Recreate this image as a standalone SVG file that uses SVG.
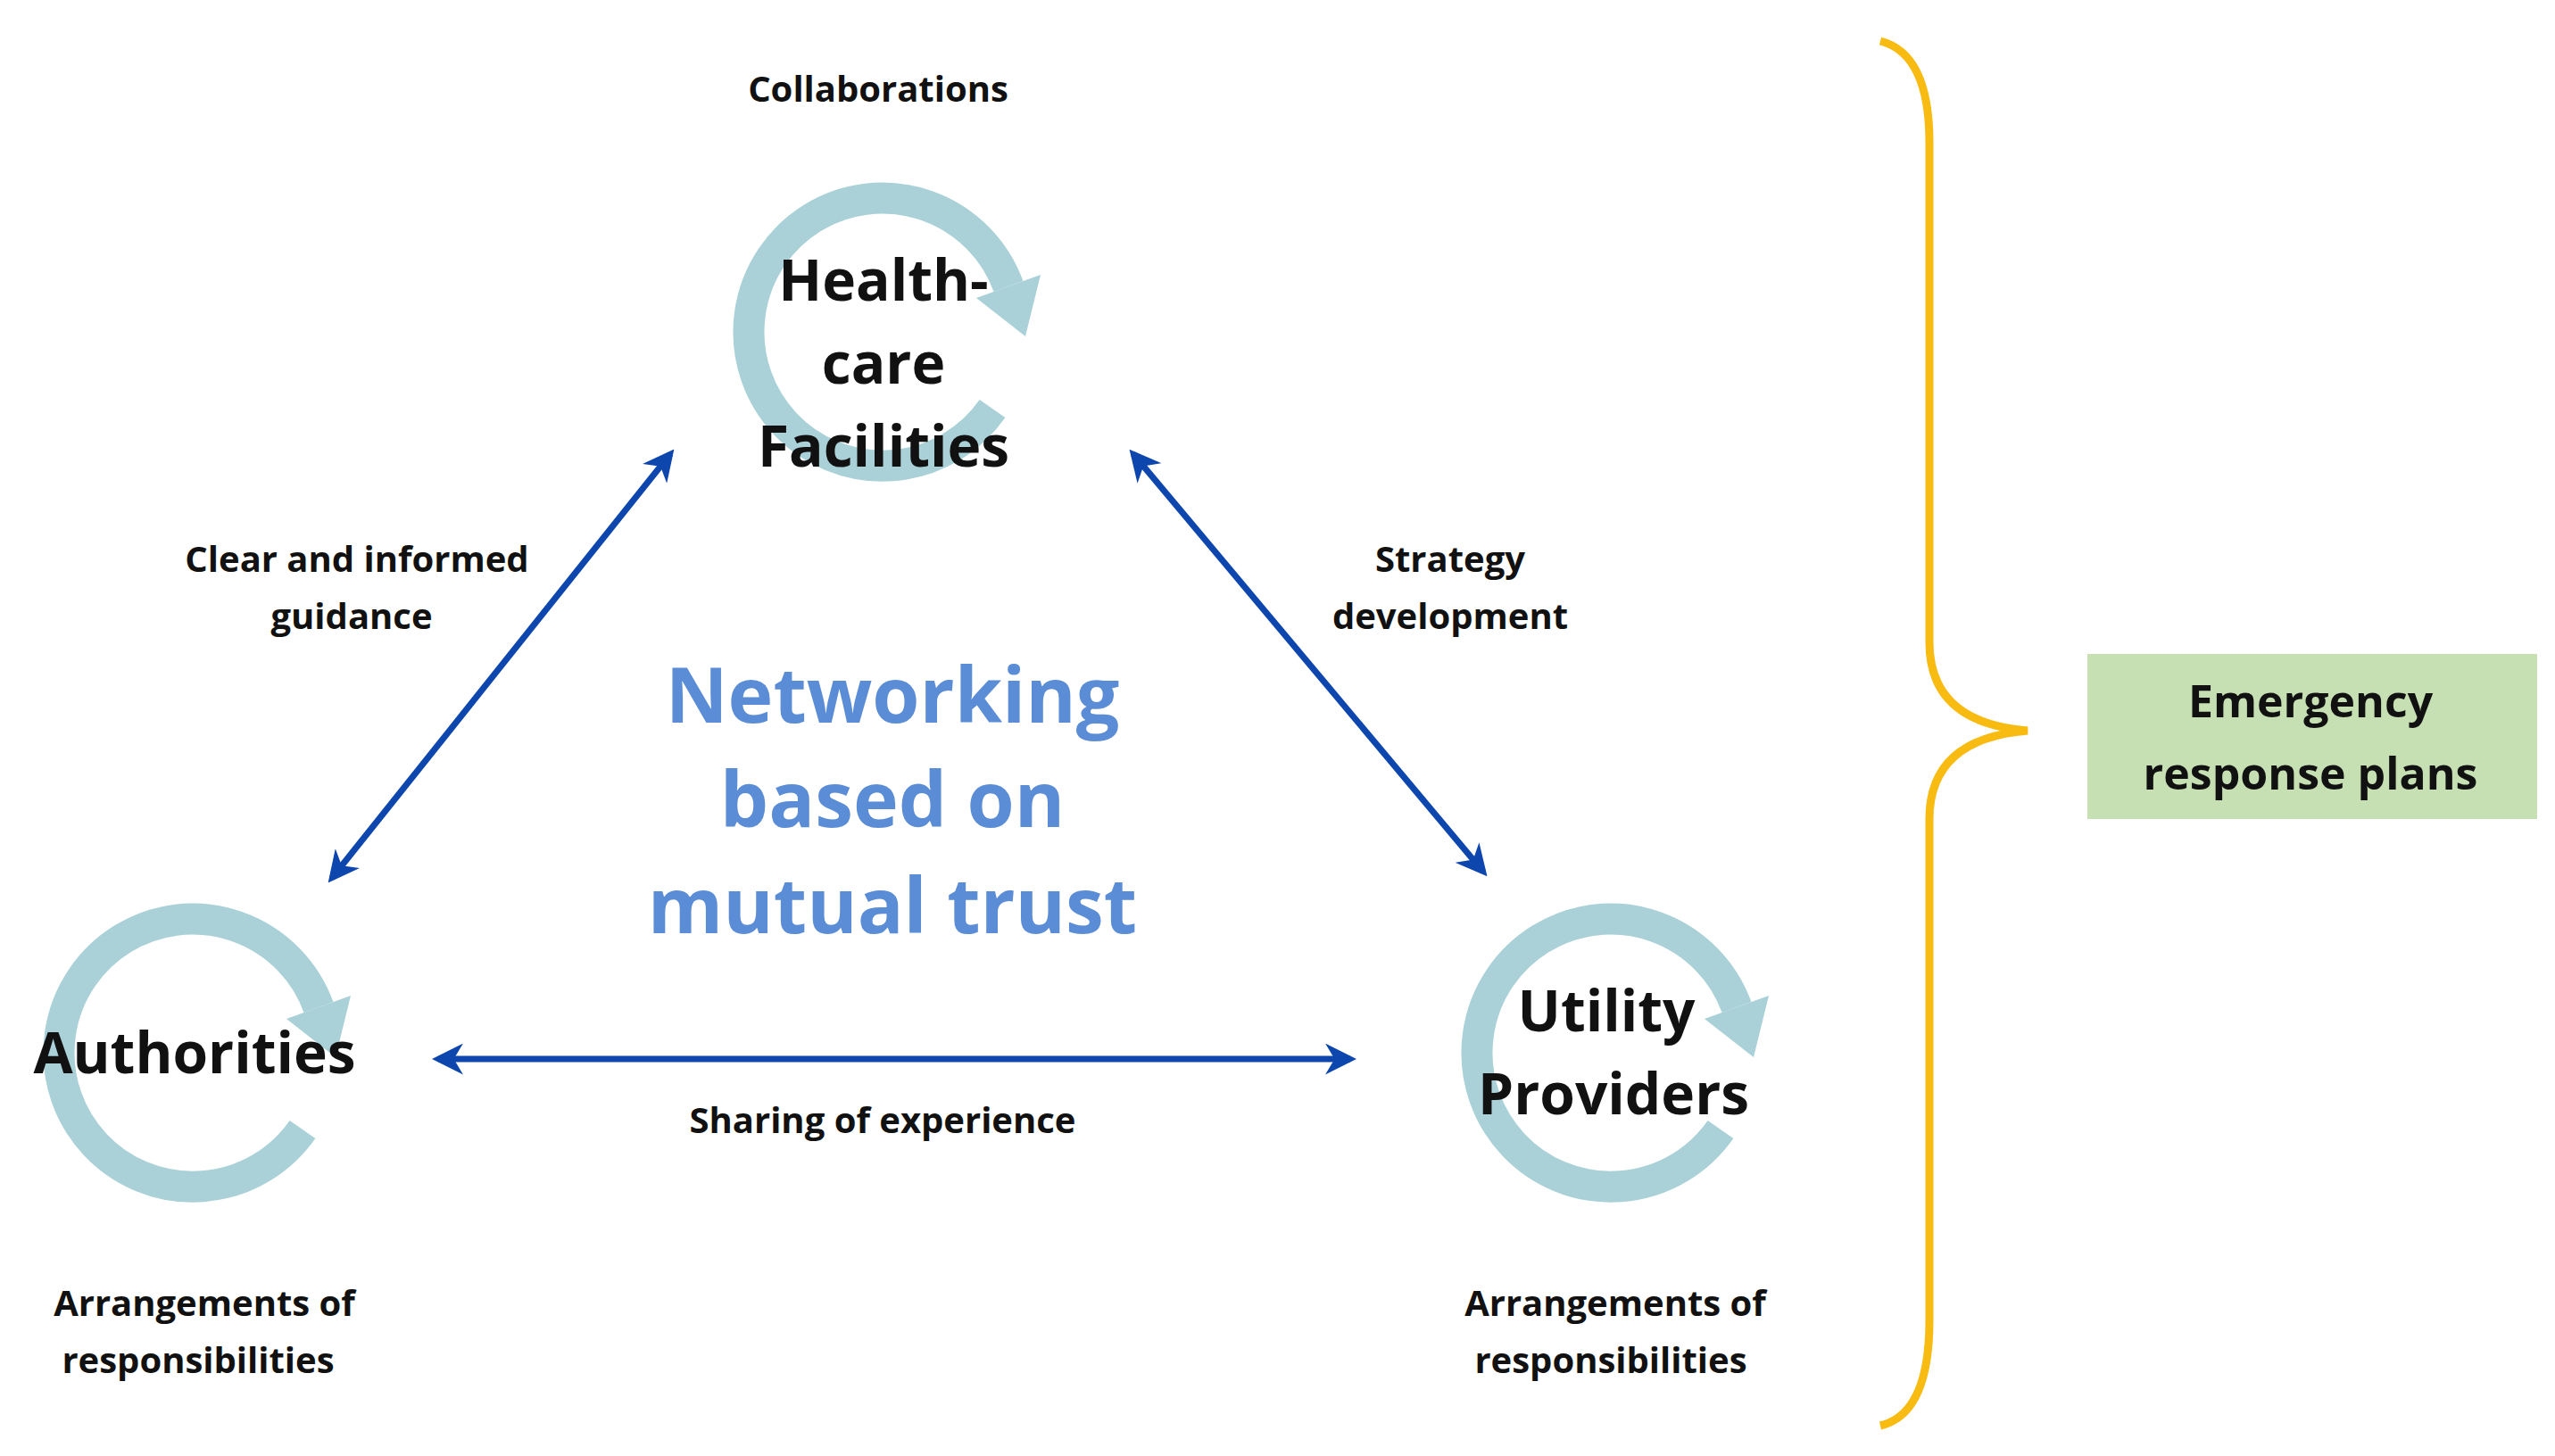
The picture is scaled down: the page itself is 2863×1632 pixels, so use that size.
<svg xmlns="http://www.w3.org/2000/svg" width="2863" height="1632" viewBox="0 0 2863 1632">
<style>
text{font-family:"Open Sans","Noto Sans",sans-serif;font-weight:bold;text-anchor:middle;fill:#111}
.node{font-size:64px}
.lbl{font-size:40px}
.mid{font-size:86px;fill:#5B8DD6}
.conn{stroke:#0D47AE;stroke-width:7;fill:none;marker-start:url(#ah);marker-end:url(#ah)}
</style>
<defs>
<marker id="ah" viewBox="0 0 10 10" refX="8" refY="5" markerWidth="5" markerHeight="5" orient="auto-start-reverse" markerUnits="strokeWidth">
<path d="M0,0 L10,5 L0,10 L3,5 Z" fill="#0D47AE"/>
</marker>
<g id="cyc">
<path d="M123,86 A150,150 0 1 1 141,-51" fill="none" stroke="#A9D1D7" stroke-width="35"/>
<polygon points="177,-64 105,-38 160,5" fill="#A9D1D7"/>
</g>
</defs>
<rect width="2863" height="1632" fill="#fff"/>
<g id="connectors">
<line class="conn" x1="751" y1="509" x2="372" y2="984"/>
<line class="conn" x1="1270" y1="509" x2="1662" y2="977"/>
<line class="conn" x1="491" y1="1187" x2="1513" y2="1187"/>
<path d="M2107,46 Q2162,60 2162,160 L2162,720 Q2162,810 2272,819 Q2162,828 2162,918 L2162,1480 Q2162,1585 2107,1598" fill="none" stroke="#F7BB12" stroke-width="9"/>
</g>
<g id="health">
<use href="#cyc" transform="translate(989,372)"/>
<text class="node" x="990" y="337">Health-</text>
<text class="node" x="990" y="430">care</text>
<text class="node" x="990" y="523">Facilities</text>
</g>
<g id="authorities">
<use href="#cyc" transform="translate(216,1180)"/>
<text class="node" x="218" y="1203">Authorities</text>
</g>
<g id="utility">
<use href="#cyc" transform="translate(1805,1180)"/>
<text class="node" x="1800" y="1156">Utility</text>
<text class="node" x="1808" y="1249">Providers</text>
</g>
<g id="center">
<text class="mid" x="1000" y="810">Networking</text>
<text class="mid" x="1000" y="927">based on</text>
<text class="mid" x="1000" y="1046">mutual trust</text>
</g>
<g id="labels">
<text class="lbl" x="984" y="114">Collaborations</text>
<text class="lbl" x="400" y="641">Clear and informed</text>
<text class="lbl" x="394" y="705">guidance</text>
<text class="lbl" x="1625" y="641">Strategy</text>
<text class="lbl" x="1625" y="705">development</text>
<text class="lbl" x="989" y="1270">Sharing of experience</text>
<text class="lbl" x="229" y="1475">Arrangements of</text>
<text class="lbl" x="222" y="1539">responsibilities</text>
<text class="lbl" x="1810" y="1475">Arrangements of</text>
<text class="lbl" x="1805" y="1539">responsibilities</text>
</g>
<g id="plans">
<rect x="2339" y="733" width="504" height="185" fill="#C6DFB3"/>
<text class="lbl" style="font-size:50px" x="2589" y="804">Emergency</text>
<text class="lbl" style="font-size:50px" x="2589" y="885">response plans</text>
</g>
</svg>
